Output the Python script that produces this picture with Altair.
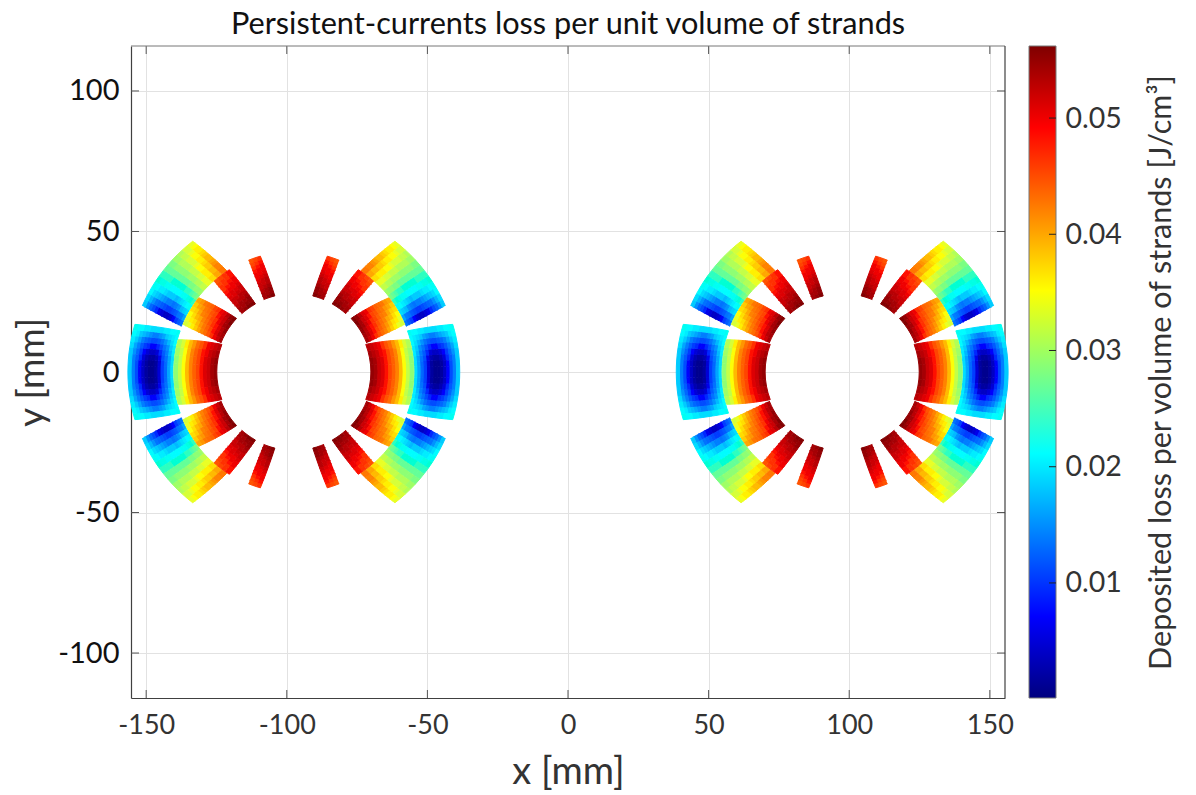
import math
import altair as alt
import pandas as pd

TITLE = "Persistent-currents loss per unit volume of strands"
X_TICKS = [-150, -100, -50, 0, 50, 100, 150]
Y_TICKS = [-100, -50, 0, 50, 100]
CB_TICKS = [0.01, 0.02, 0.03, 0.04, 0.05]
CB_MIN, CB_MAX = 0.0001, 0.0562
JET = ["#00007f", "#0000ff", "#007fff", "#00ffff", "#7fff7f", "#ffff00", "#ff7f00", "#ff0000", "#7f0000"]
APERTURE_X = [-97.5, 97.5]

# rows run from the inner to the outer radius, columns from low to high angle
O1 = [
 [.019,.019,.019,.020,.020,.021,.021,.022],
 [.016,.016,.016,.017,.018,.019,.020,.021],
 [.012,.012,.013,.014,.015,.017,.019,.021],
 [.009,.009,.010,.011,.013,.015,.018,.020],
 [.005,.005,.006,.008,.010,.013,.016,.020],
 [.002,.002,.003,.005,.008,.011,.015,.019],
 [.001,.001,.002,.004,.007,.010,.014,.019],
 [.001,.001,.002,.004,.007,.010,.014,.019],
 [.002,.002,.003,.005,.008,.011,.015,.019],
 [.004,.004,.005,.007,.009,.012,.016,.020],
 [.007,.007,.008,.009,.011,.014,.017,.020],
 [.010,.010,.011,.012,.014,.016,.018,.021],
 [.014,.014,.014,.015,.016,.018,.020,.021],
 [.018,.018,.018,.018,.019,.020,.021,.022],
]
O2 = [
 [.013,.016,.019,.022,.025,.028,.030,.032,.034,.037,.040,.043],
 [.011,.014,.018,.021,.024,.027,.029,.032,.034,.037,.040,.043],
 [.009,.013,.017,.020,.023,.026,.029,.031,.034,.036,.039,.042],
 [.007,.011,.015,.019,.022,.025,.028,.031,.033,.036,.039,.042],
 [.005,.010,.014,.018,.022,.025,.028,.030,.033,.036,.038,.041],
 [.004,.009,.013,.017,.021,.024,.027,.030,.032,.035,.038,.040],
 [.004,.009,.014,.018,.021,.024,.027,.030,.032,.035,.037,.039],
 [.005,.010,.014,.018,.021,.024,.027,.029,.032,.034,.036,.039],
 [.006,.011,.015,.018,.021,.024,.027,.029,.031,.033,.036,.038],
 [.008,.012,.016,.019,.022,.024,.027,.029,.031,.033,.035,.037],
 [.010,.013,.017,.020,.022,.025,.027,.029,.031,.033,.035,.036],
 [.012,.015,.018,.020,.023,.025,.027,.029,.031,.032,.034,.036],
 [.015,.017,.019,.021,.023,.025,.027,.028,.030,.032,.033,.035],
 [.018,.019,.021,.022,.024,.025,.027,.028,.030,.031,.033,.034],
]
I1 = [
 [.055,.055,.054,.053],
 [.054,.054,.053,.052],
 [.052,.052,.052,.051],
 [.051,.051,.050,.050],
 [.049,.049,.049,.048],
 [.047,.047,.047,.046],
 [.045,.045,.045,.044],
 [.042,.042,.042,.041],
 [.039,.039,.039,.039],
 [.035,.035,.035,.036],
 [.032,.032,.032,.033],
 [.029,.029,.030,.031],
]
I2 = [
 [.054,.054,.055,.055,.056,.056],
 [.052,.053,.053,.054,.054,.055],
 [.050,.051,.051,.052,.052,.053],
 [.048,.049,.049,.050,.051,.051],
 [.046,.047,.048,.048,.049,.050],
 [.044,.045,.046,.047,.047,.048],
 [.042,.043,.044,.045,.046,.047],
 [.040,.041,.042,.043,.044,.045],
 [.038,.039,.040,.042,.043,.044],
 [.036,.037,.039,.040,.041,.043],
 [.034,.036,.037,.038,.040,.041],
 [.033,.034,.035,.037,.038,.040],
]
I3 = [
 [.054,.055,.056,.056],
 [.054,.054,.055,.055],
 [.053,.054,.054,.055],
 [.052,.053,.053,.054],
 [.052,.052,.053,.053],
 [.051,.051,.052,.052],
 [.050,.051,.051,.052],
 [.049,.050,.050,.051],
 [.048,.049,.050,.050],
 [.048,.048,.049,.050],
 [.047,.048,.048,.049],
 [.046,.047,.048,.049],
]
I4 = [
 [.054,.055,.056],
 [.054,.054,.055],
 [.053,.054,.055],
 [.052,.053,.054],
 [.052,.052,.053],
 [.051,.052,.053],
 [.050,.051,.052],
 [.050,.050,.051],
 [.049,.050,.050],
 [.048,.049,.050],
 [.047,.048,.049],
 [.046,.047,.048],
]
# radius in/out, low-edge angle at in/out, high-edge angle at in/out (degrees)
BLOCKS = [
 (O1, 43.0, 59.0, 0.0, 0.0, 19.9, 16.7),
 (O2, 43.2, 58.8, 22.0, 23.6, 56.5, 52.3),
 (I1, 27.4, 42.7, 0.0, 0.0, 21.0, 15.6),
 (I2, 27.9, 42.9, 21.7, 23.1, 43.1, 38.0),
 (I3, 27.8, 43.0, 48.2, 48.6, 60.6, 57.8),
 (I4, 27.9, 42.9, 67.4, 67.9, 76.0, 73.9),
]

rows = []
cell = 0
for table, r0, r1, lo0, lo1, hi0, hi1 in BLOCKS:
    nr, nc = len(table), len(table[0])
    for i in range(nr):
        for j in range(nc):
            corners = []
            for a, b in [(i, j), (i, j + 1), (i + 1, j + 1), (i + 1, j)]:
                f = a / nr
                r = r0 + (r1 - r0) * f
                lo = lo0 + (lo1 - lo0) * f
                hi = hi0 + (hi1 - hi0) * f
                t = math.radians(lo + (hi - lo) * b / nc)
                corners.append((r * math.cos(t), r * math.sin(t)))
            for cx in APERTURE_X:
                for sx in (-1, 1):
                    for sy in (-1, 1):
                        cell += 1
                        for k, (dx, dy) in enumerate(corners):
                            rows.append({"c": cell, "k": k,
                                         "x": round(cx + sx * dx, 2),
                                         "y": round(sy * dy, 2),
                                         "v": table[i][j]})
cells = pd.DataFrame(rows)
alt.data_transformers.disable_max_rows()

W, H = 874, 652
FONT = "Lato"
jet = alt.Scale(domain=[CB_MIN, CB_MAX], range=JET)
xs = alt.Scale(domain=[-155.4, 155.4], nice=False, zero=False)
ys = alt.Scale(domain=[-116, 116], nice=False, zero=False)

x_axis = alt.Axis(values=X_TICKS, title="x [mm]", grid=True, gridColor="#e2e2e2", gridWidth=1,
                  tickSize=0, domain=True, domainColor="#404040", domainWidth=1.2,
                  labelExpr="'' + datum.value", labelFont=FONT, labelFontSize=27, labelColor="#333333",
                  labelPadding=14, titleFont=FONT, titleFontSize=38, titleFontWeight="normal",
                  titleColor="#333333", titlePadding=15, labelFlush=False)
y_axis = alt.Axis(values=Y_TICKS, title="y [mm]", grid=True, gridColor="#e2e2e2", gridWidth=1,
                  tickSize=0, domain=True, domainColor="#404040", domainWidth=1.2,
                  labelExpr="'' + datum.value", labelFont=FONT, labelFontSize=29, labelColor="#111111",
                  labelPadding=12, titleFont=FONT, titleFontSize=37, titleFontWeight="normal",
                  titleColor="#333333", titlePadding=6)

coil = alt.Chart(cells).mark_line(strokeWidth=1, strokeJoin="round", interpolate="linear").encode(
    x=alt.X("x:Q", scale=xs, axis=x_axis),
    y=alt.Y("y:Q", scale=ys, axis=y_axis),
    color=alt.Color("v:Q", scale=jet, legend=None),
    fill=alt.Fill("v:Q", scale=jet, legend=None),
    detail="c:N",
    order="k:Q",
)
TK = "#555555"
xt = alt.Chart(pd.DataFrame({"t": X_TICKS})).mark_rule(color=TK, strokeWidth=1).encode(
    x=alt.X("t:Q", scale=xs, axis=x_axis), y=alt.value(H), y2=alt.value(H - 8))
xt2 = alt.Chart(pd.DataFrame({"t": X_TICKS})).mark_rule(color=TK, strokeWidth=1).encode(
    x=alt.X("t:Q", scale=xs, axis=x_axis), y=alt.value(0), y2=alt.value(8))
yt = alt.Chart(pd.DataFrame({"t": Y_TICKS})).mark_rule(color=TK, strokeWidth=1).encode(
    y=alt.Y("t:Q", scale=ys, axis=y_axis), x=alt.value(0), x2=alt.value(8))
yt2 = alt.Chart(pd.DataFrame({"t": Y_TICKS})).mark_rule(color=TK, strokeWidth=1).encode(
    y=alt.Y("t:Q", scale=ys, axis=y_axis), x=alt.value(W), x2=alt.value(W - 8))
top = alt.Chart(pd.DataFrame({"a": [0]})).mark_rule(color="#777777", strokeWidth=1).encode(
    x=alt.value(0), x2=alt.value(W), y=alt.value(0))
right = alt.Chart(pd.DataFrame({"a": [0]})).mark_rule(color="#404040", strokeWidth=1.2).encode(
    x=alt.value(W), y=alt.value(0), y2=alt.value(H))

main = alt.layer(xt, xt2, yt, yt2, top, right, coil).properties(
    width=W, height=H,
    title=alt.TitleParams(TITLE, font=FONT, fontSize=30.7, fontWeight="normal", color="#111111",
                          anchor="middle", offset=5))

cb_scale = alt.Scale(domain=[CB_MIN, CB_MAX], nice=False, zero=False)
cb_axis = alt.Axis(orient="right", values=CB_TICKS, format=".2f", tickSize=0, domain=False, grid=False,
                   title="Deposited loss per volume of strands [J/cm³]", titleAngle=270,
                   labelFont=FONT, labelFontSize=28.5, labelColor="#333333", labelPadding=9,
                   titleFont=FONT, titleFontSize=30.5, titleFontWeight="normal", titleColor="#333333",
                   titlePadding=55)
grad = alt.Gradient(gradient="linear", x1=0, y1=1, x2=0, y2=0,
                    stops=[alt.GradientStop(offset=i / (len(JET) - 1), color=c) for i, c in enumerate(JET)])
bar = alt.Chart(pd.DataFrame({"a": [CB_MIN], "b": [CB_MAX]})).mark_rect(
    color=grad, stroke="#777777", strokeWidth=1).encode(
    y=alt.Y("a:Q", scale=cb_scale, axis=cb_axis),
    y2="b:Q", x=alt.value(0), x2=alt.value(27))
cbt = alt.Chart(pd.DataFrame({"t": CB_TICKS})).mark_rule(color="#222222", strokeWidth=1).encode(
    y=alt.Y("t:Q", scale=cb_scale, axis=cb_axis), x=alt.value(20), x2=alt.value(27))
cb = alt.layer(bar, cbt).properties(width=27, height=H)

chart = alt.hconcat(main, cb, spacing=14).resolve_scale(color="independent", fill="independent").properties(
    padding={"left": 5, "top": 0, "right": 0, "bottom": 0}
).configure_view(stroke="transparent")
chart.save("out.html", embed_options={"renderer": "svg", "actions": False})
